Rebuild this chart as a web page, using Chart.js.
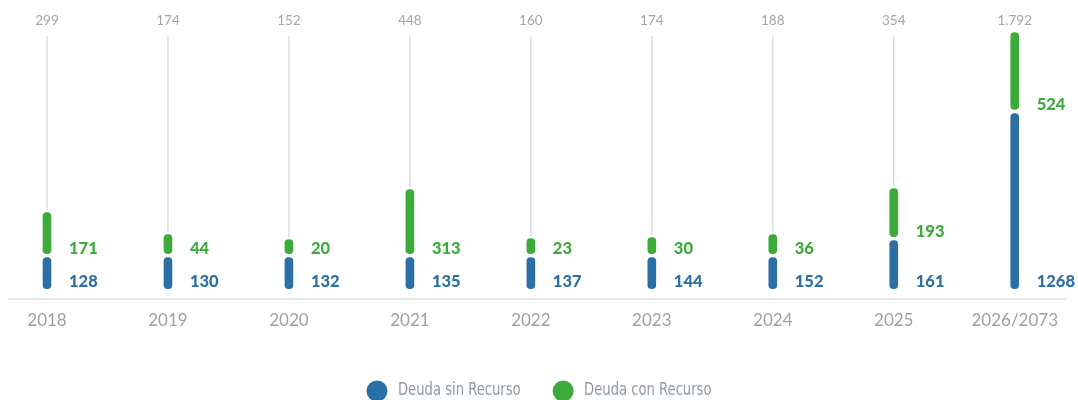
<!DOCTYPE html>
<html>
<head>
<meta charset="utf-8">
<script src="https://cdn.jsdelivr.net/npm/chart.js@4"></script>
<style>
  body { margin: 0; background: #fff; }
  #wrap { width: 1078px; height: 400px; position: relative; }
</style>
</head>
<body>
<div id="wrap"><canvas id="deuda"></canvas></div>
<script>
const categories = ["2018", "2019", "2020", "2021", "2022", "2023", "2024", "2025", "2026/2073"];
const sinRecurso = [128, 130, 132, 135, 137, 144, 152, 161, 1268];
const conRecurso = [171, 44, 20, 313, 23, 30, 36, 193, 524];
// the infographic is not drawn to scale: these are the drawn lengths of each piece
const largoSin = [35, 35, 35, 35, 35, 35, 35, 52, 179];
const largoCon = [45, 23, 18, 68, 19, 20, 23, 52, 81];

const blue = "#2b6fa6";
const green = "#3cab3a";
const grey = "#9ca1a6";

// 1792 -> "1.792"
const fmt = (n) => String(n).replace(/\B(?=(\d{3})+(?!\d))/g, ".");

const decor = {
    id: "decor",
    beforeDatasetsDraw(chart) {
        const ctx = chart.ctx;
        const area = chart.chartArea;
        const top = chart.getDatasetMeta(1);
        ctx.save();
        // base line
        ctx.strokeStyle = "#e6e7e8";
        ctx.lineWidth = 2;
        ctx.beginPath();
        ctx.moveTo(8, area.bottom + 8.5);
        ctx.lineTo(1066, area.bottom + 8.5);
        ctx.stroke();
        // thin lines up to the totals
        ctx.strokeStyle = "#d9dcdf";
        ctx.lineWidth = 1.5;
        top.data.forEach((bar, i) => {
            const yEnd = bar.y + 2;
            if (yEnd > 36) {
                ctx.beginPath();
                ctx.moveTo(bar.x, 36);
                ctx.lineTo(bar.x, yEnd);
                ctx.stroke();
            }
            ctx.fillStyle = "#a2a6ab";
            ctx.font = "13.5px Lato";
            ctx.textAlign = "center";
            ctx.textBaseline = "middle";
            ctx.fillText(fmt(sinRecurso[i] + conRecurso[i]), bar.x, 21);
        });
        ctx.restore();
    },
    afterDatasetsDraw(chart) {
        const ctx = chart.ctx;
        ctx.save();
        ctx.font = "900 16.5px Lato";
        ctx.textAlign = "left";
        ctx.textBaseline = "alphabetic";
        const values = [sinRecurso, conRecurso];
        const lift = [3.5, 1.5];
        chart.data.datasets.forEach((ds, d) => {
            chart.getDatasetMeta(d).data.forEach((bar, i) => {
                ctx.fillStyle = ds.backgroundColor;
                ctx.fillText(values[d][i], bar.x + 22, bar.base - lift[d]);
            });
        });

        // legend (narrow text like the original)
        ctx.font = "17px 'DejaVu Sans Condensed', 'Liberation Sans Narrow', Lato";
        ctx.textBaseline = "middle";
        const squeeze = 0.86;
        const r = 10.5, gap = 10.5, space = 32;
        const items = chart.data.datasets.map(ds => ({
            label: ds.label, color: ds.backgroundColor, w: ctx.measureText(ds.label).width * squeeze
        }));
        let total = 0;
        items.forEach((it, k) => { total += 2 * r + gap + it.w + (k ? space : 0); });
        let x = (chart.width - total) / 2;
        const y = 391;
        items.forEach((it) => {
            ctx.fillStyle = it.color;
            ctx.beginPath();
            ctx.arc(x + r, y, r, 0, Math.PI * 2);
            ctx.fill();
            ctx.save();
            ctx.translate(x + 2 * r + gap, y);
            ctx.scale(squeeze, 1);
            ctx.fillStyle = "#8f9aa3";
            ctx.fillText(it.label, 0, 0);
            ctx.restore();
            x += 2 * r + gap + it.w + space;
        });
        ctx.restore();
    }
};

const round = { topLeft: 6, topRight: 6, bottomLeft: 6, bottomRight: 6 };

new Chart(document.getElementById("deuda"), {
    type: "bar",
    plugins: [decor],
    data: {
        labels: categories,
        datasets: [
            {
                label: "Deuda sin Recurso",
                data: largoSin,
                backgroundColor: blue,
                borderRadius: round,
                clip: false,
            },
            {
                label: "Deuda con Recurso",
                data: largoCon,
                backgroundColor: green,
                borderRadius: round,
                clip: false,
            },
        ],
    },
    options: {
        responsive: true,
        maintainAspectRatio: false,
        animation: false,
        layout: { padding: { left: 47, right: 61, top: 30.5, bottom: 49 } },
        datasets: {
            bar: {
                barThickness: 12,
                borderWidth: 2,
                borderColor: "#fff",
                borderSkipped: false,
            },
        },
        plugins: {
            legend: { display: false },
            tooltip: { enabled: false },
        },
        scales: {
            x: {
                stacked: true,
                offset: false,
                grid: { display: false, drawTicks: false },
                border: { display: false },
                ticks: {
                    color: grey,
                    font: { family: "Lato", size: 17 },
                    padding: 20,
                    maxRotation: 0,
                    autoSkip: false,
                },
            },
            y: {
                stacked: true,
                display: false,
                min: 0,
                max: 260,
            },
        },
    },
});
</script>
</body>
</html>
